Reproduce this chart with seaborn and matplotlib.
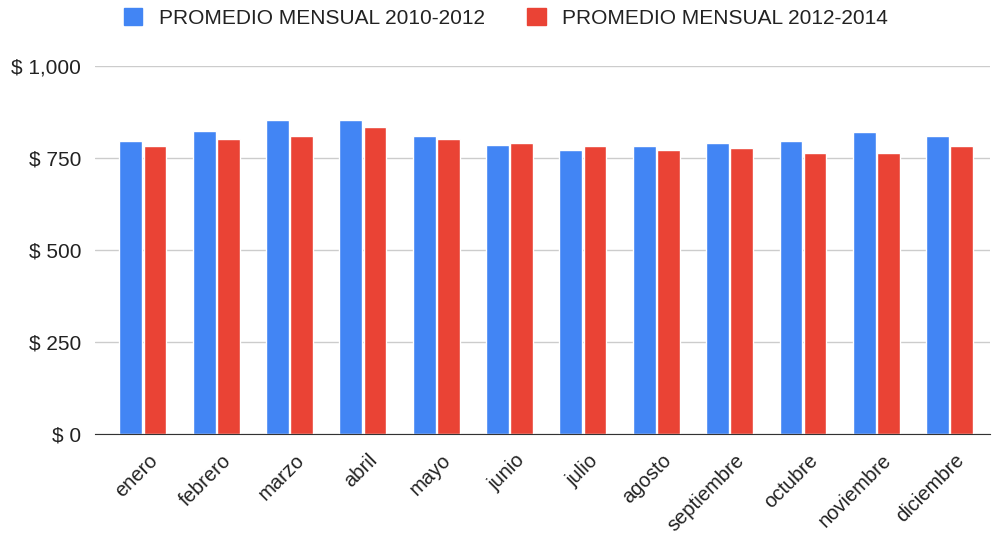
import pandas as pd
import matplotlib.pyplot as plt
import matplotlib.transforms as mtransforms
import seaborn as sns
from matplotlib.ticker import FuncFormatter
from matplotlib.patches import Patch

meses = ['enero', 'febrero', 'marzo', 'abril', 'mayo', 'junio', 'julio',
         'agosto', 'septiembre', 'octubre', 'noviembre', 'diciembre']
prom_2010_2012 = [796, 825, 853, 853, 811, 787, 773, 783, 792, 796, 821, 811]
prom_2012_2014 = [782, 802, 811, 834, 802, 792, 783, 773, 777, 764, 764, 782]
series = ['PROMEDIO MENSUAL 2010-2012', 'PROMEDIO MENSUAL 2012-2014']
colores = ['#4285F4', '#EA4335']

df = pd.DataFrame({'mes': meses * 2,
                   'valor': prom_2010_2012 + prom_2012_2014,
                   'serie': [series[0]] * 12 + [series[1]] * 12})

sns.set_style('white')
plt.rcParams['font.family'] = ['Liberation Sans', 'DejaVu Sans']

fig = plt.figure(figsize=(9.92, 5.34), dpi=100)
ax = fig.add_axes([0.096, 0.187, 0.902, 0.689])
sns.barplot(data=df, x='mes', y='valor', hue='serie', palette=colores,
            width=0.66, gap=0.06, ax=ax, legend=False, saturation=1)

ax.set_ylim(0, 1000)
ax.set_xlim(-0.65, 11.55)
ax.set_yticks([0, 250, 500, 750, 1000])
ax.yaxis.set_major_formatter(FuncFormatter(lambda v, p: f'$ {int(v):,}'))
ax.grid(axis='y', color='#cccccc', linewidth=1)
ax.set_axisbelow(True)
for s in ['top', 'right', 'left']:
    ax.spines[s].set_visible(False)
ax.spines['bottom'].set_color('#333333')
ax.set_xlabel('')
ax.set_ylabel('')
ax.tick_params(axis='y', labelsize=15, length=0, pad=10, labelcolor='#222222')
ax.tick_params(axis='x', labelsize=14.5, length=0, pad=12, labelcolor='#222222')
offset = mtransforms.ScaledTranslation(5 / 100, 0, fig.dpi_scale_trans)
for lbl in ax.get_xticklabels():
    lbl.set_rotation(45)
    lbl.set_ha('right')
    lbl.set_rotation_mode('anchor')
    lbl.set_transform(lbl.get_transform() + offset)

handles = [Patch(color=c, label=l) for c, l in zip(colores, series)]
fig.legend(handles=handles, loc='upper center', bbox_to_anchor=(0.51, 1.02),
           ncol=2, frameon=False, fontsize=15, handlelength=0.9, handleheight=0.9,
           columnspacing=2.0, labelcolor='#222222')

plt.savefig('out.png', dpi=100)
